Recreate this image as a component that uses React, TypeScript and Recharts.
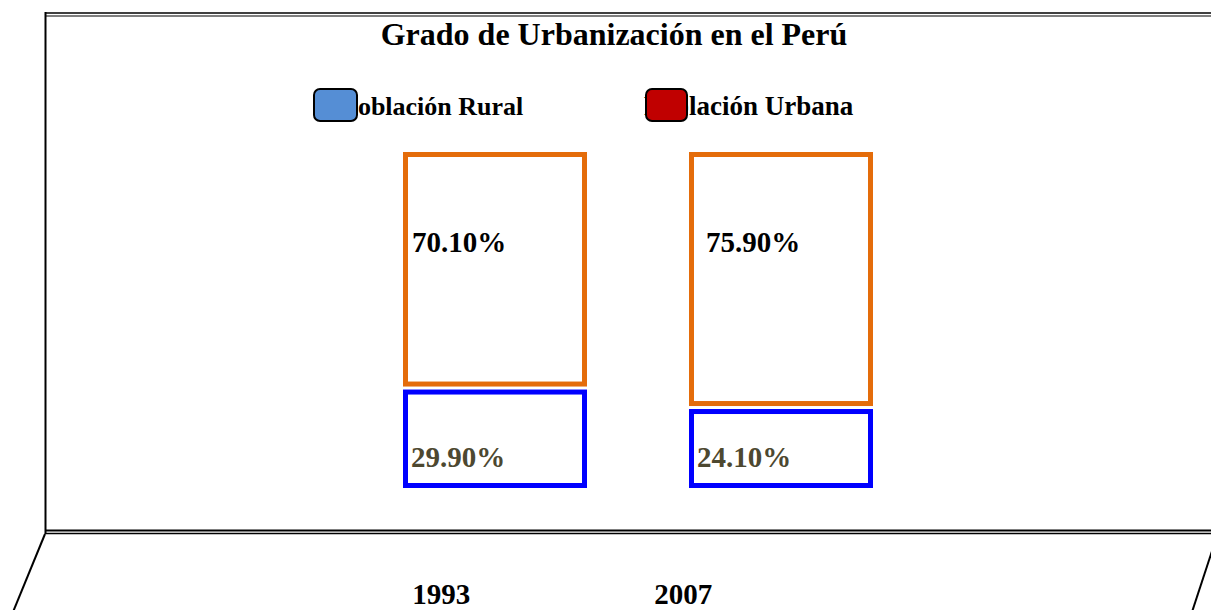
import React from "react";
import { BarChart, Bar, XAxis, YAxis, LabelList, Customized } from "recharts";

const years = ["1993", "2007"];
const rural = [29.9, 24.1];
const urbana = [70.1, 75.9];
const seriesNames = ["Población Rural", "Población Urbana"];

const data = years.map((year, i) => ({ year, rural: rural[i], urbana: urbana[i] }));

const FONT = '"Liberation Serif", "Times New Roman", serif';
const SWATCH = ["#558ED5", "#C00000"];
const STROKE = { rural: "#0000FF", urbana: "#E46C0A" };

// bordes de caja, sin relleno
const boxShape = (color: string, key: "rural" | "urbana") => (props: any) => {
    const { x, y, width, height } = props;
    const sw = 5;
    const top = key === "urbana" ? y : y + 2;
    const bottom = key === "urbana" ? y + height - 1 : y + height;
    return (
        <rect
            x={x + sw / 2}
            y={top + sw / 2}
            width={width - sw}
            height={bottom - top - sw}
            fill="#FFFFFF"
            stroke={color}
            strokeWidth={sw}
        />
    );
};

const urbanLabel = (props: any) => {
    const { x, y, value, index } = props;
    const dx = [9, 17][index] ?? 9;
    return (
        <text x={x + dx} y={y + 100} fontFamily={FONT} fontWeight="bold" fontSize={29} fill="#000000">
            {value.toFixed(2)}%
        </text>
    );
};

const ruralLabel = (props: any) => {
    const { x, y, height, value } = props;
    return (
        <text x={x + 8} y={y + height - 21} fontFamily={FONT} fontWeight="bold" fontSize={29} fill="#4D4830">
            {value.toFixed(2)}%
        </text>
    );
};

// ticks del piso en perspectiva
const FloorTick = (props: any) => {
    const { x, payload } = props;
    return (
        <text x={0.846 * x + 22.6} y={604} textAnchor="middle" fontFamily={FONT} fontWeight="bold" fontSize={29} fill="#000000">
            {payload.value}
        </text>
    );
};

const LegendBox = () => {
    const items = [
        { sx: 313, tx: 342, sw: 46, fs: 26 },
        { sx: 645, tx: 644, sw: 44, fs: 27 },
    ];
    return (
        <div style={{ position: "absolute", left: 0, top: 0, width: 1211, height: 130, pointerEvents: "none" }}>
            {seriesNames.map((name, i) => (
                <React.Fragment key={name}>
                    <span
                        style={{
                            position: "absolute",
                            left: items[i].tx,
                            top: 91,
                            fontFamily: FONT,
                            fontWeight: "bold",
                            fontSize: items[i].fs,
                            lineHeight: "31px",
                            whiteSpace: "nowrap",
                            color: "#000",
                        }}
                    >
                        {name}
                    </span>
                    <span
                        style={{
                            position: "absolute",
                            left: items[i].sx,
                            top: 88,
                            width: items[i].sw - 5,
                            height: 30,
                            background: SWATCH[i],
                            border: "2.5px solid #000",
                            borderRadius: 7,
                        }}
                    />
                </React.Fragment>
            ))}
        </div>
    );
};

const Frame = () => (
    <g>
        <text x={614} y={45} textAnchor="middle" fontFamily={FONT} fontWeight="bold" fontSize={32} fill="#000">
            Grado de Urbanización en el Perú
        </text>
        <line x1={45} y1={13} x2={1211} y2={13} stroke="#000" strokeWidth={1.6} />
        <line x1={45} y1={16} x2={1211} y2={16} stroke="#000" strokeWidth={1.2} />
        <line x1={45.5} y1={12} x2={45.5} y2={534} stroke="#000" strokeWidth={2} />
        <line x1={45} y1={530.5} x2={1211} y2={530.5} stroke="#000" strokeWidth={1.8} />
        <line x1={45} y1={533.5} x2={1211} y2={533.5} stroke="#000" strokeWidth={1.6} />
        <line x1={45} y1={534} x2={13} y2={612} stroke="#000" strokeWidth={2} />
        <line x1={1213} y1={548} x2={1192} y2={612} stroke="#000" strokeWidth={2} />
    </g>
);

export default function App() {
    return (
        <div style={{ position: "absolute", left: 0, top: 0, width: 1211, height: 610, background: "#FFFFFF" }}>
            <BarChart width={1211} height={610} data={data} margin={{ top: 152, right: 287, bottom: 92, left: 352 }}>
                <Customized component={Frame} />
                <XAxis dataKey="year" height={30} axisLine={false} tickLine={false} tick={<FloorTick />} />
                <YAxis hide domain={[0, 100]} />
                <Bar dataKey="rural" stackId="a" barSize={184} name={seriesNames[0]} fill={SWATCH[0]} shape={boxShape(STROKE.rural, "rural")} isAnimationActive={false}>
                    <LabelList dataKey="rural" content={ruralLabel} />
                </Bar>
                <Bar dataKey="urbana" stackId="a" barSize={184} name={seriesNames[1]} fill={SWATCH[1]} shape={boxShape(STROKE.urbana, "urbana")} isAnimationActive={false}>
                    <LabelList dataKey="urbana" content={urbanLabel} />
                </Bar>
            </BarChart>
            <LegendBox />
        </div>
    );
}
